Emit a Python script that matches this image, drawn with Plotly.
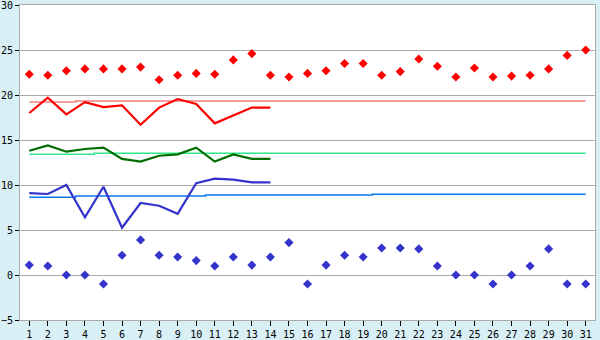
import plotly.graph_objects as go

days = list(range(1, 32))
day_labels = [str(d) for d in days]
y_ticks = [-5, 0, 5, 10, 15, 20, 25, 30]

max_record = [22.3, 22.2, 22.7, 22.9, 22.9, 22.9, 23.1, 21.7, 22.2, 22.4, 22.3, 23.9, 24.6, 22.2, 22.0,
              22.4, 22.7, 23.5, 23.5, 22.2, 22.6, 24.0, 23.2, 22.0, 23.0, 22.0, 22.1, 22.2, 22.9, 24.4, 25.0]
min_record = [1.1, 1.0, 0.0, 0.0, -1.0, 2.2, 3.9, 2.2, 2.0, 1.6, 1.0, 2.0, 1.1, 2.0, 3.6,
              -1.0, 1.1, 2.2, 2.0, 3.0, 3.0, 2.9, 1.0, 0.0, 0.0, -1.0, 0.0, 1.0, 2.9, -1.0, -1.0]

days_obs = list(range(1, 15))
max_obs = [18.0, 19.7, 17.85, 19.2, 18.65, 18.85, 16.7, 18.6, 19.55, 19.0, 16.85, 17.75, 18.6, 18.6]
mean_obs = [13.8, 14.4, 13.7, 14.0, 14.15, 12.9, 12.6, 13.25, 13.4, 14.15, 12.6, 13.4, 12.9, 12.9]
min_obs = [9.1, 9.0, 10.0, 6.4, 9.8, 5.25, 8.0, 7.7, 6.8, 10.2, 10.7, 10.6, 10.3, 10.3]

max_normal = [19.22] * 3 + [19.34] * 28
mean_normal = [13.41] * 4 + [13.52] * 27
min_normal = [8.63] * 3 + [8.78] * 7 + [8.89] * 9 + [8.96] * 12

fig = go.Figure()

fig.add_trace(go.Scatter(x=days, y=max_normal, mode="lines", line=dict(color="#f48080", width=1.5, shape="hvh")))
fig.add_trace(go.Scatter(x=days, y=mean_normal, mode="lines", line=dict(color="#30e888", width=1.5, shape="hvh")))
fig.add_trace(go.Scatter(x=days, y=min_normal, mode="lines", line=dict(color="#0a78ee", width=1.5, shape="hvh")))

fig.add_trace(go.Scatter(x=days_obs, y=max_obs, mode="lines", line=dict(color="#ff0000", width=2.2)))
fig.add_trace(go.Scatter(x=days_obs, y=mean_obs, mode="lines", line=dict(color="#006e00", width=2.2)))
fig.add_trace(go.Scatter(x=days_obs, y=min_obs, mode="lines", line=dict(color="#3434cc", width=2.2)))

fig.add_trace(go.Scatter(x=days, y=max_record, mode="markers",
                         marker=dict(symbol="diamond", size=7, color="#ff0000", line=dict(width=0))))
fig.add_trace(go.Scatter(x=days, y=min_record, mode="markers",
                         marker=dict(symbol="diamond", size=7, color="#3434cc", line=dict(width=0))))

fig.update_layout(
    width=600, height=340,
    margin=dict(l=20, r=5, t=5, b=20, autoexpand=False),
    paper_bgcolor="#d9eff6",
    plot_bgcolor="#ffffff",
    showlegend=False,
    font=dict(family="DejaVu Sans Mono", size=10, color="#000000"),
    xaxis=dict(
        range=[0.5, 31.5], tickmode="array", tickvals=days, ticktext=day_labels,
        showgrid=False, zeroline=False, automargin=False,
        showline=True, linecolor="#aaaaaa", linewidth=1, mirror=True,
        ticks="outside", ticklen=5, tickcolor="#000000", tickwidth=1,
        tickfont=dict(size=10), fixedrange=True, ticklabeloverflow="allow",
    ),
    yaxis=dict(
        range=[-5, 30], tickmode="array", tickvals=y_ticks,
        ticktext=[("\u2212" + str(-v)) if v < 0 else str(v) for v in y_ticks],
        showgrid=True, gridcolor="#aaaaaa", gridwidth=1, zeroline=False, automargin=False,
        showline=True, linecolor="#aaaaaa", linewidth=1, mirror=True,
        ticks="outside", ticklen=4, tickcolor="#000000", tickwidth=1,
        tickfont=dict(size=10), fixedrange=True, ticklabeloverflow="allow",
    ),
)

fig.write_html("out.html")
